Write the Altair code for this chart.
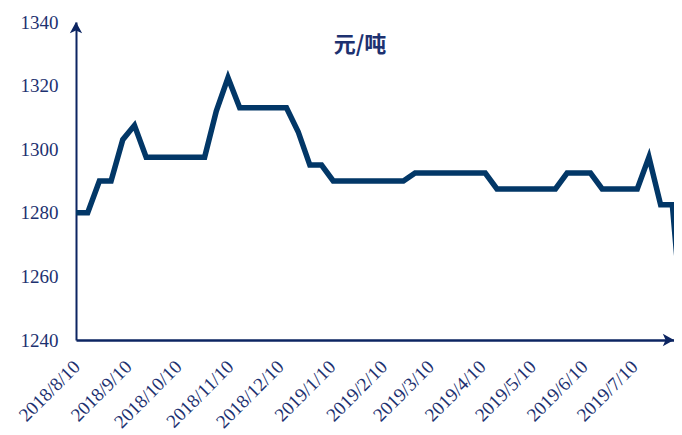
import altair as alt
import pandas as pd

# ---- data (weekly) ----
start_date = "2018-08-10"
prices = [
    1280, 1280, 1290, 1290, 1303, 1307.5, 1297.5, 1297.5, 1297.5, 1297.5,
    1297.5, 1297.5, 1312, 1322.5, 1313, 1313, 1313, 1313, 1313, 1305.5,
    1295, 1295, 1290, 1290, 1290, 1290, 1290, 1290, 1290, 1292.5,
    1292.5, 1292.5, 1292.5, 1292.5, 1292.5, 1292.5, 1287.5, 1287.5, 1287.5, 1287.5,
    1287.5, 1287.5, 1292.5, 1292.5, 1292.5, 1287.5, 1287.5, 1287.5, 1287.5, 1297.5,
    1282.5, 1282.5, 1240,
]
dates = pd.date_range(start_date, periods=len(prices), freq="7D")
tick_months = [(2018, 8), (2018, 9), (2018, 10), (2018, 11), (2018, 12),
               (2019, 1), (2019, 2), (2019, 3), (2019, 4), (2019, 5),
               (2019, 6), (2019, 7)]
y_ticks = [1240, 1260, 1280, 1300, 1320, 1340]
unit_label = "元/吨"

df = pd.DataFrame({"date": dates, "price": prices})

LINE = "#023767"
AXIS = "#0c2562"
TEXT = "#1d3170"
SERIF = "Liberation Serif"

x_start = pd.Timestamp("2018-08-10")
x_end = pd.Timestamp("2019-08-03")

x_scale = alt.Scale(domain=[alt.DateTime(year=2018, month=8, date=10),
                            alt.DateTime(year=2019, month=8, date=3)])
y_scale = alt.Scale(domain=[1240, 1340], nice=False, zero=False)

x_axis = alt.Axis(
    values=[alt.DateTime(year=y, month=m, date=10) for (y, m) in tick_months],
    labelExpr="timeFormat(datum.value, '%Y/%-m/%-d')",
    labelAngle=-45, labelAlign="right", labelBaseline="top",
    labelPadding=17, labelOffset=-6, ticks=False, tickSize=0, grid=False,
    domainColor=AXIS, domainWidth=2.5, labelFont=SERIF, labelFontSize=19,
    labelColor=TEXT, labelOverlap=False, labelBound=False, labelFlush=False,
    title=None,
)
y_axis = alt.Axis(
    values=y_ticks, format="d", ticks=False, tickSize=0, grid=False,
    domainColor=AXIS, domainWidth=2, labelFont=SERIF, labelFontSize=19,
    labelColor=TEXT, labelPadding=18, title=None,
)

line = alt.Chart(df).mark_line(color=LINE, strokeWidth=5.5, clip=True,
                               strokeJoin="miter", strokeCap="butt").encode(
    x=alt.X("date:T", scale=x_scale, axis=x_axis),
    y=alt.Y("price:Q", scale=y_scale, axis=y_axis),
)

up_arrow_df = pd.DataFrame({"date": [x_start], "price": [1340]})
right_arrow_df = pd.DataFrame({"date": [x_end], "price": [1240]})

up_arrow = alt.Chart(up_arrow_df).mark_point(
    shape="M0,0 L0.55,1 L0,0.75 L-0.55,1 Z", filled=True, size=500,
    color=AXIS, opacity=1, strokeWidth=0,
).encode(x=alt.X("date:T", scale=x_scale), y=alt.Y("price:Q", scale=y_scale))

right_arrow = alt.Chart(right_arrow_df).mark_point(
    shape="M0,0 L-1,-0.55 L-0.75,0 L-1,0.55 Z", filled=True, size=500,
    color=AXIS, opacity=1, strokeWidth=0,
).encode(x=alt.X("date:T", scale=x_scale), y=alt.Y("price:Q", scale=y_scale))

title = alt.Chart(pd.DataFrame({"t": [unit_label]})).mark_text(
    font="Noto Sans CJK SC", fontSize=22, fontWeight="bold", color=TEXT,
    align="center", baseline="middle",
).encode(text="t:N", x=alt.value(284), y=alt.value(23))

chart = alt.layer(line, up_arrow, right_arrow, title).properties(
    width=598, height=318,
    autosize=alt.AutoSizeParams(type="none"),
    padding={"left": 68, "top": 14, "right": 0, "bottom": 95},
).configure(background="white").configure_view(stroke=None)

chart.save("out.html", embed_options={"renderer": "svg", "actions": False})
